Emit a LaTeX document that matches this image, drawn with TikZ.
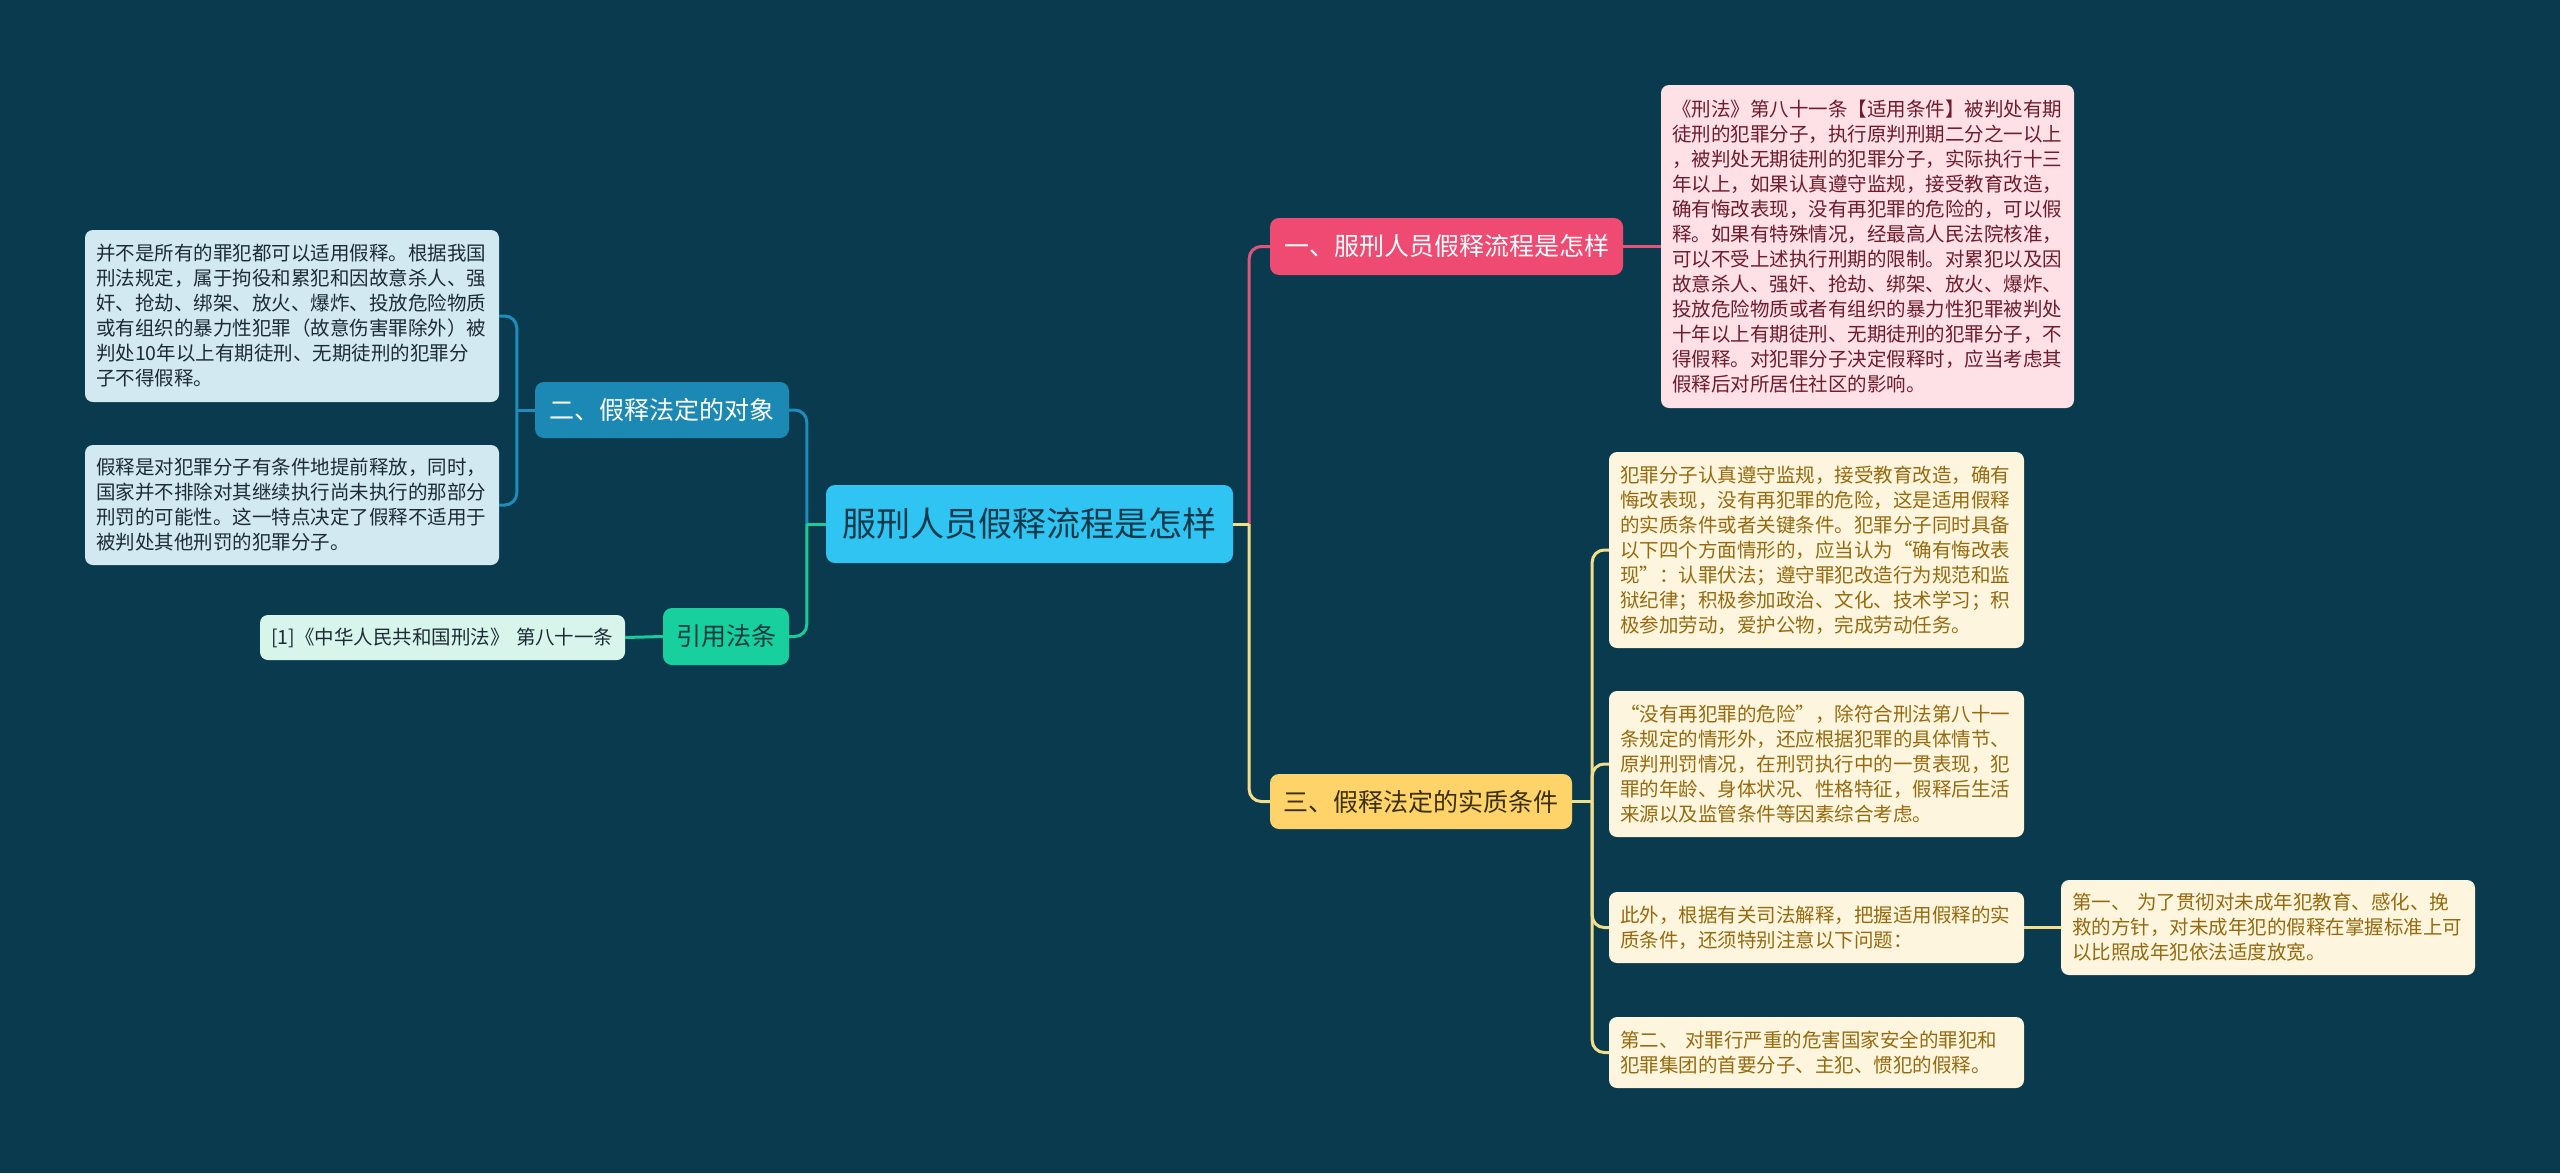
\documentclass[tikz,border=0pt]{standalone}
\usepackage{fontspec}
\setmainfont{Noto Sans CJK SC}
\definecolor{bg}{HTML}{093A4D}
\definecolor{cfill}{HTML}{2FC4F2}
\definecolor{ctext}{HTML}{0F3A4C}
\definecolor{redn}{HTML}{EF4A72}
\definecolor{redl}{HTML}{E0557A}
\definecolor{pinkf}{HTML}{FDE1E7}
\definecolor{pinkt}{HTML}{6E1B2B}
\definecolor{bluen}{HTML}{1C89B4}
\definecolor{bluel}{HTML}{1E8DBE}
\definecolor{bluef}{HTML}{D3E9F1}
\definecolor{bluet}{HTML}{1C2B35}
\definecolor{greenn}{HTML}{17D09E}
\definecolor{greenl}{HTML}{1ACB9A}
\definecolor{greenf}{HTML}{D8F5EC}
\definecolor{greent}{HTML}{0A3B40}
\definecolor{yellown}{HTML}{FDD36A}
\definecolor{yellowl}{HTML}{F3DF8A}
\definecolor{yellowf}{HTML}{FEF5DF}
\definecolor{yellowt}{HTML}{956A0E}
\definecolor{yellowd}{HTML}{3B2F00}
\begin{document}
\begin{tikzpicture}[x=1pt,y=-1pt,
  txtbox/.style={rounded corners=8pt, inner xsep=11pt, inner ysep=0pt, align=left, anchor=center, font=\fontsize{19.5}{25}\selectfont},
  topic/.style={rounded corners=9pt, inner sep=0pt, align=center, anchor=center, font=\fontsize{25}{30}\selectfont},
  link/.style={line width=3pt, rounded corners=12pt}]
\fill[bg] (0,0) rectangle (2560,1173);
\useasboundingbox (0,0) rectangle (2560,1173);

% central
\node[topic, fill=cfill, text=ctext, minimum width=407pt, minimum height=78pt, font=\fontsize{34}{40}\selectfont] (c) at (1029.5,524) {服刑人员假释流程是怎样};

% level 1
\node[topic, fill=redn, text=white, minimum width=353pt, minimum height=57pt] (n1) at (1446.5,246.5) {一、服刑人员假释流程是怎样};
\node[topic, fill=bluen, text=white, minimum width=254pt, minimum height=56pt] (n2) at (662,410) {二、假释法定的对象};
\node[topic, fill=greenn, text=greent, minimum width=126pt, minimum height=57pt] (nref) at (726,636.5) {引用法条};
\node[topic, fill=yellown, text=yellowd, minimum width=302pt, minimum height=55pt] (n3) at (1421,801.5) {三、假释法定的实质条件};

% pink text
\node[txtbox, fill=pinkf, text=pinkt, text width=391pt, minimum height=323pt] (p) at (1867.5,246.5) {《刑法》第八十一条【适用条件】被判处有期\\徒刑的犯罪分子，执行原判刑期二分之一以上\\，被判处无期徒刑的犯罪分子，实际执行十三\\年以上，如果认真遵守监规，接受教育改造，\\确有悔改表现，没有再犯罪的危险的，可以假\\释。如果有特殊情况，经最高人民法院核准，\\可以不受上述执行刑期的限制。对累犯以及因\\故意杀人、强奸、抢劫、绑架、放火、爆炸、\\投放危险物质或者有组织的暴力性犯罪被判处\\十年以上有期徒刑、无期徒刑的犯罪分子，不\\得假释。对犯罪分子决定假释时，应当考虑其\\假释后对所居住社区的影响。};

% left boxes
\node[txtbox, fill=bluef, text=bluet, text width=392pt, minimum height=172pt] (l1) at (292,316) {并不是所有的罪犯都可以适用假释。根据我国\\刑法规定，属于拘役和累犯和因故意杀人、强\\奸、抢劫、绑架、放火、爆炸、投放危险物质\\或有组织的暴力性犯罪（故意伤害罪除外）被\\判处10年以上有期徒刑、无期徒刑的犯罪分\\子不得假释。};
\node[txtbox, fill=bluef, text=bluet, text width=392pt, minimum height=120pt] (l2) at (292,505) {假释是对犯罪分子有条件地提前释放，同时，\\国家并不排除对其继续执行尚未执行的那部分\\刑罚的可能性。这一特点决定了假释不适用于\\被判处其他刑罚的犯罪分子。};
\node[txtbox, fill=greenf, text=bluet, text width=343pt, minimum height=45pt] (r) at (442.5,637.5) {[1]《中华人民共和国刑法》 第八十一条};

% yellow boxes
\node[txtbox, fill=yellowf, text=yellowt, text width=393pt, minimum height=196pt] (a) at (1816.5,550) {犯罪分子认真遵守监规，接受教育改造，确有\\悔改表现，没有再犯罪的危险，这是适用假释\\的实质条件或者关键条件。犯罪分子同时具备\\以下四个方面情形的，应当认为“确有悔改表\\现”：认罪伏法；遵守罪犯改造行为规范和监\\狱纪律；积极参加政治、文化、技术学习；积\\极参加劳动，爱护公物，完成劳动任务。};
\node[txtbox, fill=yellowf, text=yellowt, text width=393pt, minimum height=146pt] (b) at (1816.5,764) {“没有再犯罪的危险”，除符合刑法第八十一\\条规定的情形外，还应根据犯罪的具体情节、\\原判刑罚情况，在刑罚执行中的一贯表现，犯\\罪的年龄、身体状况、性格特征，假释后生活\\来源以及监管条件等因素综合考虑。};
\node[txtbox, fill=yellowf, text=yellowt, text width=393pt, minimum height=71pt] (cc) at (1816.5,927.5) {此外，根据有关司法解释，把握适用假释的实\\质条件，还须特别注意以下问题：};
\node[txtbox, fill=yellowf, text=yellowt, text width=393pt, minimum height=71pt] (d) at (1816.5,1052.5) {第二、 对罪行严重的危害国家安全的罪犯和\\犯罪集团的首要分子、主犯、惯犯的假释。};
\node[txtbox, fill=yellowf, text=yellowt, text width=392pt, minimum height=95pt] (e) at (2268,927.5) {第一、 为了贯彻对未成年犯教育、感化、挽\\救的方针，对未成年犯的假释在掌握标准上可\\以比照成年犯依法适度放宽。};

% junction coordinates
\coordinate (jr) at ([xshift=16pt]c.east);
\coordinate (jl) at ([xshift=-19pt]c.west);
\coordinate (j2) at ([xshift=-18pt]n2.west);
\coordinate (j3) at ([xshift=20pt]n3.east);

% connectors
\draw[link, redl] (jr) |- (n1.west);
\draw[link, yellowl] (jr) |- (n3.west);
\draw[link, yellowl] (c.east) -- (jr);
\draw[link, bluel] (jl) |- (n2.east);
\draw[link, greenl] (jl) |- (nref.east);
\draw[link, greenl] (c.west) -- (jl);

\draw[link, redl] (n1.east) -- (p.west);
\draw[link, bluel] (n2.west) -- (j2);
\draw[link, bluel] (j2) |- (l1.east);
\draw[link, bluel] (j2) |- (l2.east);
\draw[link, greenl] (nref.west) -- (r.east);

\draw[link, yellowl] (n3.east) -- (j3);
\draw[link, yellowl] (j3) |- (a.west);
\draw[link, yellowl] (j3) |- (b.west);
\draw[link, yellowl] (j3) |- (cc.west);
\draw[link, yellowl] (j3) |- (d.west);
\draw[link, yellowl] (cc.east) -- (e.west);
\end{tikzpicture}
\end{document}
